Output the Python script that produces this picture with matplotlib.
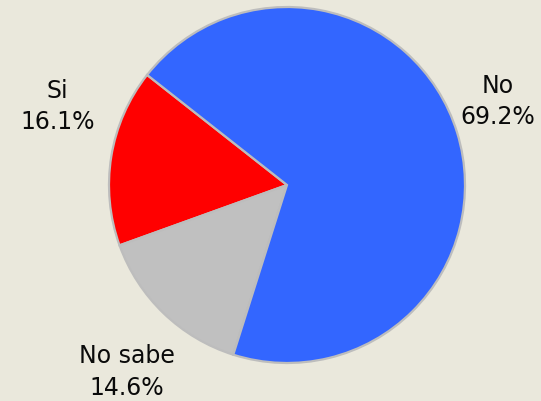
import matplotlib
matplotlib.use("Agg")
import matplotlib.pyplot as plt

plt.rcParams["font.family"] = ["DejaVu Sans"]

# slices in drawing order (counter-clockwise from the Si/No boundary)
labels = ["Si", "No sabe", "No"]
values = [16.1, 14.6, 69.2]
colors = ["#FF0000", "#C0C0C0", "#3366FF"]
label_pos = [(-1.29, 0.44), (-0.90, -1.05), (1.185, 0.47)]

bg = "#EAE8DC"

fig = plt.figure(figsize=(5.41, 4.01), dpi=100, facecolor=bg)
ax = fig.add_axes([0, 0, 1, 1])
ax.set_facecolor(bg)

wedges, _ = ax.pie(
    values,
    colors=colors,
    startangle=141.8,
    counterclock=True,
    radius=1.0,
    wedgeprops={"edgecolor": "#BDBDBD", "linewidth": 1.6},
)

for name, val, (x, y) in zip(labels, values, label_pos):
    ax.text(
        x, y, "{}\n{:.1f}%".format(name, val),
        ha="center", va="center", fontsize=17, color="#0A0A0A",
        linespacing=1.4,
    )

# 178 px per unit, centre at (287, 185) from top-left
ax.set_xlim(-287 / 178, (541 - 287) / 178)
ax.set_ylim(-(401 - 185) / 178, 185 / 178)
ax.set_aspect("auto")
ax.axis("off")

fig.savefig("out.png", dpi=100, facecolor=bg)
